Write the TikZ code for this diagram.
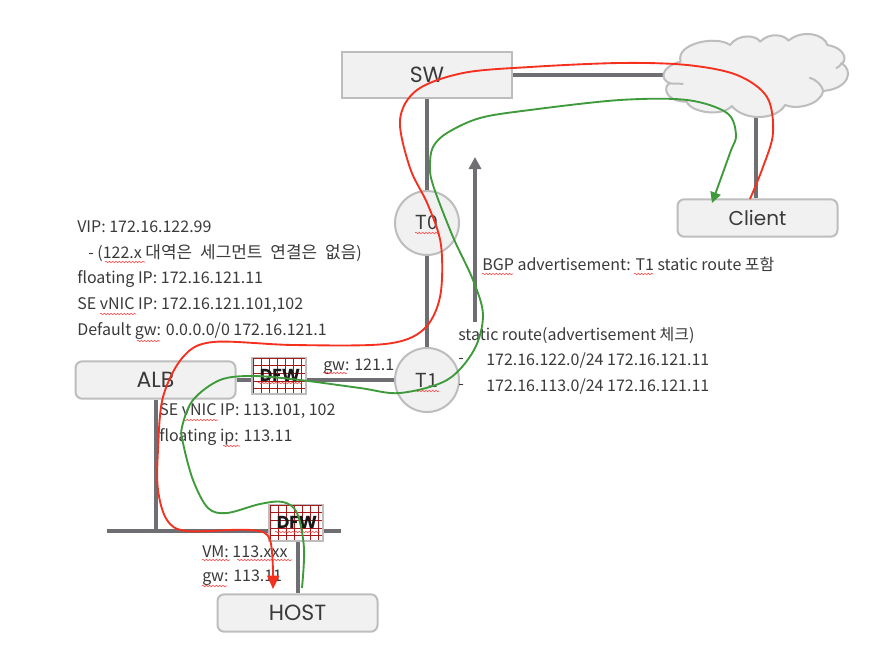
\documentclass[tikz,border=0pt]{standalone}
\usepackage{fontspec}
\setmainfont{Noto Sans CJK KR}
\newfontfamily\boxfont{Poppins}
\usetikzlibrary{arrows.meta,decorations.pathmorphing}
\definecolor{boxfill}{HTML}{F1F1F1}
\definecolor{boxline}{HTML}{BDBDBD}
\definecolor{wire}{HTML}{6E6E73}
\definecolor{redpath}{HTML}{F5301F}
\definecolor{greenpath}{HTML}{3E9A3A}
\definecolor{gridred}{HTML}{A81818}
\definecolor{inktext}{HTML}{3A3A3A}
\tikzset{
 x=0.75pt,y=-0.75pt,
 rbox/.style={draw=boxline,fill=boxfill,line width=1.5pt,rounded corners=5pt,minimum width=120pt,minimum height=28pt,inner sep=0pt,text=inktext,font=\boxfont\fontsize{16.5}{18}\selectfont},
 clientbox/.style={rbox,font=\boxfont\fontsize{15}{17}\selectfont},
 swbox/.style={rbox,rounded corners=0pt,minimum width=128pt,minimum height=35pt},
 router/.style={circle,draw=boxline,fill=boxfill,line width=1.5pt,minimum size=48pt,inner sep=0pt,text=inktext,font=\fontsize{14.5}{16}\selectfont},
 wireline/.style={draw=wire,line width=3pt},
 lab/.style={anchor=west,inner sep=0pt,text=inktext,font=\fontsize{12}{14}\selectfont},
 redroute/.style={draw=redpath,line width=1.4pt},
 greenroute/.style={draw=greenpath,line width=1.4pt},
 spell/.style={draw=red!75!white,line width=0.4pt,decorate,decoration={snake,amplitude=0.6pt,segment length=2.5pt}},
 dfwfill/.style={draw=boxline,fill=white,line width=1.5pt,minimum width=41pt,minimum height=27pt,inner sep=0pt},
 dfwgrid/.style={draw=gridred,line width=0.55pt},
 dfwtext/.style={inner sep=0pt,text=black!90,font=\boxfont\bfseries\fontsize{13}{15}\selectfont},
}
\newcommand{\dfwmark}[3]{%
 \node[dfwfill] (#1) at (#2,#3) {};
 \foreach \u in {-26,-18,-10,-2,6,14,22} \draw[dfwgrid] (#2+\u,#3-17) -- (#2+\u,#3+17);
 \foreach \v in {-17,-10,-2,6,13} \draw[dfwgrid] (#2-26,#3+\v) -- (#2+26,#3+\v);
 \node[dfwtext] at (#2+1,#3) {DFW};
}
\newcommand{\kogap}{\hspace{6pt}}
\newcommand{\kotext}[1]{{\fontsize{12.7}{14}\selectfont #1}}
\begin{document}
\begin{tikzpicture}
\useasboundingbox (0,0) rectangle (890,657);
\fill[white] (0,0) rectangle (890,657);
\coordinate (busw) at (107,531); \coordinate (buse) at (341,531);
\coordinate (adv0) at (475,322); \coordinate (adv1) at (475,157);
\node[swbox] (sw) at (427,75) {SW};
\node[clientbox] (client) at (757.5,218) {Client};
\node[rbox] (alb) at (155.5,380) {ALB};
\node[rbox] (host) at (297.5,613) {HOST};
\coordinate (cloudw) at (665,75);
\coordinate (cloudb) at (756,116);
\coordinate (albbus) at (156,531);
\coordinate (hostbus) at (298,531);
% wires
\draw[wireline] (sw.east) -- (cloudw);
\draw[wireline] (cloudb) -- (cloudb |- client.north);
\draw[wireline] (sw.south) -- (427,380);
\draw[wireline] (alb.east) -- (427,380);
\draw[wireline] (alb.south -| albbus) -- (albbus);
\draw[wireline] (busw) -- (buse);
\draw[wireline] (hostbus) -- (host.north -| hostbus);
\draw[wireline,-{Triangle[length=9pt,width=9pt]}] (adv0) -- (adv1);
% cloud
\begin{scope}[shift={(620,20)},x=0.25pt,y=-0.25pt]
\draw[draw=boxline,fill=boxfill,line width=1.5pt,line join=round]
 (182,125) .. controls (165,70) and (290,45) .. (330,75)
 .. controls (355,40) and (410,45) .. (420,65)
 .. controls (450,35) and (495,45) .. (505,62)
 .. controls (550,25) and (615,45) .. (622,75)
 .. controls (680,85) and (680,125) .. (665,130)
 .. controls (700,150) and (690,205) .. (610,213)
 .. controls (600,255) and (530,270) .. (495,255)
 .. controls (470,300) and (375,305) .. (335,258)
 .. controls (310,290) and (215,280) .. (200,245)
 .. controls (130,245) and (130,195) .. (150,190)
 .. controls (120,180) and (120,140) .. (182,125) -- cycle;
\draw[draw=boxline,line width=1.5pt] (150,190) .. controls (160,192) and (175,190) .. (190,192);
\draw[draw=boxline,line width=1.5pt] (568,173) .. controls (590,180) and (605,195) .. (610,213);
\draw[draw=boxline,line width=1.5pt] (665,130) .. controls (660,137) and (655,142) .. (648,145);
\end{scope}
\node[router] (t0) at (427,223) {T0};
\node[router] (t1) at (427,380) {T1};
\dfwmark{dfwa}{279}{375.5}
\dfwmark{dfwb}{296}{522.5}
% labels
\node[lab] at (77,227) {VIP: 172.16.122.99};
\node[lab] at (88,253) {- (122.x \kotext{대역은\kogap 세그먼트\kogap 연결은\kogap 없음})};
\node[lab] at (77,279) {floating IP: 172.16.121.11};
\node[lab] at (77,305) {SE vNIC IP: 172.16.121.101,102};
\node[lab] at (77,331) {Default gw: 0.0.0.0/0 172.16.121.1};
\node[lab] at (323,367) {gw: 121.1};
\node[lab] at (159,411) {SE vNIC IP: 113.101, 102};
\node[lab] at (159,437) {floating ip: 113.11};
\node[lab] at (202,552) {VM: 113.xxx};
\node[lab] at (202,578) {gw: 113.11};
\node[lab] at (482,264) {BGP advertisement: T1 static route 포함};
\node[lab] at (458,335) {static route(advertisement 체크)};
\node[lab] at (458,361) {-};
\node[lab] at (486,361) {172.16.122.0/24 172.16.121.11};
\node[lab] at (458,387) {-};
\node[lab] at (486,387) {172.16.113.0/24 172.16.121.11};
% spell-check underlines
\foreach \a/\b/\c in {105/145/262,100/136/314,137/160/341,323/347/373,183/218/420,223/240/446,202/230/560,237/292/560,202/227/586,482/513/274,634/653/274,415/439/233,415/439/391,258/302/383,275/320/532} {
  \draw[spell] (\a,\c) -- (\b,\c);
}
% routes
\coordinate (redstart) at (750,199);
\coordinate (redend) at (273,589);
\coordinate (greenstart) at (302,588);
\coordinate (greenend) at (712,203);
\draw[redroute,-{Triangle[length=10pt,width=9pt]}] plot[smooth,tension=0.55] coordinates {(redstart) (763,167) (773,133) (767,97) (737,75) (687,65) (620,63) (530,67) (463,73) (417,90) (400,120) (410,168) (428,205) (441,245) (440,297) (423,330) (385,344) (293,345) (213,342) (183,357) (163,397) (158,450) (158,490) (167,520) (187,531) (250,530) (270,540) (redend)};
\draw[greenroute,-{Triangle[length=8pt,width=8pt]}] plot[smooth,tension=0.55] coordinates {(greenstart) (304,548) (297,513) (283,502) (260,504) (227,513) (208,508) (193,480) (183,443) (182,427) (193,400) (220,380) (253,376) (300,380) (360,388) (400,393) (447,380) (474,350) (483,315) (473,280) (453,237) (433,185) (430,165) (433,147) (447,133) (480,118) (530,110) (620,100) (687,100) (727,113) (736,135) (730,153) (greenend)};
\end{tikzpicture}
\end{document}
